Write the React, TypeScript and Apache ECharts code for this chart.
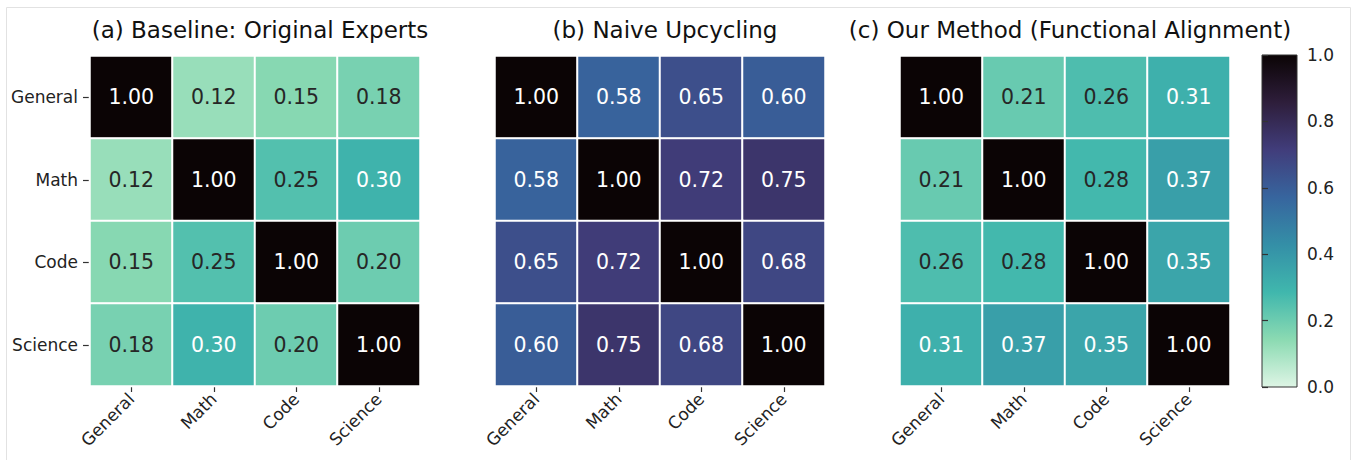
import React, { useEffect, useRef } from "react";
import * as echarts from "echarts";

const categories = ["General", "Math", "Code", "Science"];
const titles = [
  "(a) Baseline: Original Experts",
  "(b) Naive Upcycling",
  "(c) Our Method (Functional Alignment)",
];
const baselineMatrix = [
  [1.0, 0.12, 0.15, 0.18],
  [0.12, 1.0, 0.25, 0.3],
  [0.15, 0.25, 1.0, 0.2],
  [0.18, 0.3, 0.2, 1.0],
];
const naiveMatrix = [
  [1.0, 0.58, 0.65, 0.6],
  [0.58, 1.0, 0.72, 0.75],
  [0.65, 0.72, 1.0, 0.68],
  [0.6, 0.75, 0.68, 1.0],
];
const oursMatrix = [
  [1.0, 0.21, 0.26, 0.31],
  [0.21, 1.0, 0.28, 0.37],
  [0.26, 0.28, 1.0, 0.35],
  [0.31, 0.37, 0.35, 1.0],
];
const colorbarTicks = [0, 0.2, 0.4, 0.6, 0.8, 1.0];

// mako_r colormap stops (evenly spaced, 0 -> 1)
const makoR = [
  "#DEF5E5",
  "#8BDAB2",
  "#40B7AD",
  "#348FA7",
  "#37659E",
  "#413D7B",
  "#2E1E3B",
  "#0B0405",
];

const FONT = "DejaVu Sans";

export default function App() {
  const ref = useRef<HTMLDivElement>(null);
  useEffect(() => {
    if (!ref.current) return;
    const chart = echarts.init(ref.current, undefined, { renderer: "svg" });
    const matrices = [baselineMatrix, naiveMatrix, oursMatrix];
    const lefts = [90, 495, 900];
    const grids: any[] = lefts.map((l) => ({
      left: l,
      top: 56,
      width: 330,
      height: 330,
      containLabel: false,
    }));
    grids.push({
      left: 1262,
      top: 55,
      width: 35,
      height: 332,
      show: true,
      borderColor: "#333",
      borderWidth: 1,
      backgroundColor: new echarts.graphic.LinearGradient(
        0,
        1,
        0,
        0,
        makoR.map((c, i) => ({ offset: i / (makoR.length - 1), color: c }))
      ),
    });
    const xAxis: any[] = lefts.map((_, i) => ({
      type: "category",
      gridIndex: i,
      data: categories,
      axisLine: { show: false },
      axisTick: {
        show: true,
        alignWithLabel: true,
        length: 6,
        lineStyle: { color: "#333", width: 1.2 },
      },
      axisLabel: {
        rotate: 45,
        margin: 10,
        fontFamily: FONT,
        fontSize: 17,
        color: "#222",
      },
      splitLine: { show: false },
    }));
    xAxis.push({
      type: "value",
      gridIndex: 3,
      show: false,
      min: 0,
      max: 1,
    });
    const yAxis: any[] = lefts.map((_, i) => ({
      type: "category",
      gridIndex: i,
      data: categories,
      inverse: true,
      axisLine: { show: false },
      axisTick: {
        show: i === 0,
        alignWithLabel: true,
        length: 7,
        lineStyle: { color: "#333", width: 1.2 },
      },
      axisLabel: {
        show: i === 0,
        margin: 12,
        fontFamily: FONT,
        fontSize: 17,
        color: "#222",
      },
      splitLine: { show: false },
    }));
    yAxis.push({
      type: "value",
      gridIndex: 3,
      position: "right",
      min: 0,
      max: 1,
      interval: 0.2,
      axisLine: { show: false },
      axisTick: {
        show: true,
        inside: false,
        length: 6,
        lineStyle: { color: "#333", width: 1.2 },
      },
      axisLabel: {
        margin: 10,
        fontFamily: FONT,
        fontSize: 17,
        color: "#222",
        formatter: (v: number) => v.toFixed(1),
        customValues: colorbarTicks,
      },
      splitLine: { show: false },
    });
    const series: any[] = matrices.map((m, i) => ({
      type: "heatmap",
      xAxisIndex: i,
      yAxisIndex: i,
      data: m.flatMap((row, r) =>
        row.map((v, c) => ({
          value: [c, r, v],
          label: { color: v >= 0.29 ? "#ffffff" : "#262626" },
        }))
      ),
      itemStyle: { borderColor: "#ffffff", borderWidth: 2 },
      label: {
        show: true,
        fontFamily: FONT,
        fontSize: 20.5,
        formatter: (p: any) => p.value[2].toFixed(2),
      },
      emphasis: { disabled: true },
    }));
    const title = titles.map((t, i) => ({
      text: t,
      left: lefts[i] + 165,
      top: 13,
      textAlign: "center",
      textStyle: {
        fontFamily: FONT,
        fontSize: 23,
        fontWeight: "normal",
        color: "#111",
      },
    }));
    chart.setOption({
      animation: false,
      backgroundColor: "#ffffff",
      title,
      grid: grids,
      xAxis,
      yAxis,
      visualMap: {
        show: false,
        type: "continuous",
        min: 0,
        max: 1,
        dimension: 2,
        seriesIndex: [0, 1, 2],
        inRange: { color: makoR },
      },
      series,
      graphic: [
        {
          type: "rect",
          shape: { x: 6.5, y: 7.5, width: 1344, height: 460 },
          style: { fill: "none", stroke: "#e2e2e2", lineWidth: 1 },
          silent: true,
        },
      ],
    });
    return () => chart.dispose();
  }, []);
  return (
    <div
      ref={ref}
      style={{ position: "fixed", left: 0, top: 0, width: 1351, height: 460 }}
    />
  );
}
